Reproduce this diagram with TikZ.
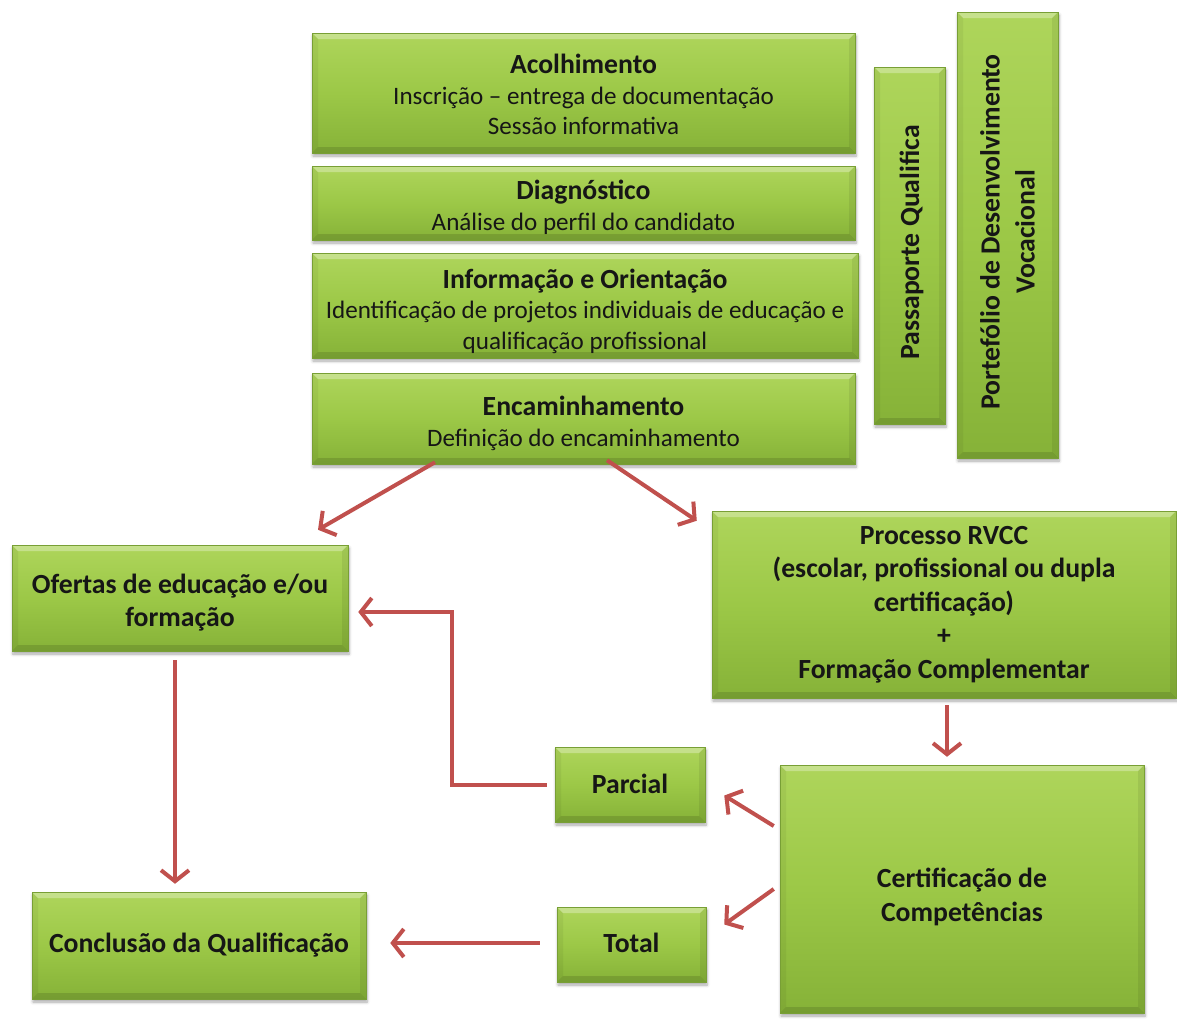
\documentclass[tikz,border=0pt]{standalone}
\usepackage{fontspec}
\setmainfont{Carlito}
\usetikzlibrary{arrows.meta,shadows.blur,calc}
\definecolor{gtop}{HTML}{AED55B}
\definecolor{gmid}{HTML}{9CC847}
\definecolor{gbot}{HTML}{86B238}
\definecolor{gedge}{HTML}{789F35}
\definecolor{arrred}{HTML}{C0504D}
\definecolor{txt}{HTML}{161616}
\newcommand{\ttl}[1]{{\fontsize{27.7}{33}\selectfont\bfseries #1}}
\tikzset{
  bevel/.style={path picture={
    \fill[white,opacity=0.30] (path picture bounding box.north west) -- (path picture bounding box.north east)
      -- ([xshift=-6pt,yshift=-6pt]path picture bounding box.north east) -- ([xshift=6pt,yshift=-6pt]path picture bounding box.north west) -- cycle;
    \fill[black,opacity=0.12] (path picture bounding box.south west) -- (path picture bounding box.south east)
      -- ([xshift=-6pt,yshift=6pt]path picture bounding box.south east) -- ([xshift=6pt,yshift=6pt]path picture bounding box.south west) -- cycle;
    \fill[black,opacity=0.05] (path picture bounding box.north west) -- ([xshift=6pt,yshift=-6pt]path picture bounding box.north west)
      -- ([xshift=6pt,yshift=6pt]path picture bounding box.south west) -- (path picture bounding box.south west) -- cycle;
    \fill[black,opacity=0.07] (path picture bounding box.north east) -- ([xshift=-6pt,yshift=-6pt]path picture bounding box.north east)
      -- ([xshift=-6pt,yshift=6pt]path picture bounding box.south east) -- (path picture bounding box.south east) -- cycle;
  }},
  box/.style={rectangle, draw=gedge, line width=0.5pt, top color=gtop, bottom color=gbot, middle color=gmid,
    blur shadow={shadow xshift=1pt, shadow yshift=-3pt, shadow blur radius=3pt, shadow blur steps=6, shadow opacity=35},
    bevel, inner sep=0pt},
  tx/.style={text=txt, align=center, inner sep=0pt, font=\fontsize{25.1}{30.5}\selectfont},
  btx/.style={tx, font=\fontsize{27.7}{33.5}\selectfont\bfseries},
  vtext/.style={rotate=90, text=txt, align=center, inner sep=0pt, font=\fontsize{27.7}{35}\selectfont\bfseries},
  arr/.style={draw=arrred, line width=4pt, -{Straight Barb[length=11pt,width=28pt,line width=4pt]}}
}
\begin{document}
\begin{tikzpicture}[x=1pt,y=-1pt]
\useasboundingbox (0,0) rectangle (1177,1021);
% boxes
\node[box, minimum width=543pt, minimum height=120pt] (acol) at (583.5,93) {};
\node[box, minimum width=543pt, minimum height=74pt] (diag) at (583.5,203) {};
\node[box, minimum width=546pt, minimum height=105pt] (info) at (585,305.5) {};
\node[box, minimum width=543pt, minimum height=91pt] (enc) at (583.5,418.5) {};
\node[box, minimum width=71pt, minimum height=357pt] (pass) at (909.5,245.5) {};
\node[box, minimum width=101pt, minimum height=446pt] (port) at (1007.5,235) {};
\node[box, minimum width=336pt, minimum height=106pt] (ofer) at (180,598) {};
\node[box, minimum width=464pt, minimum height=187pt] (rvcc) at (944,604.5) {};
\node[box, minimum width=150pt, minimum height=75pt] (parc) at (630,784.5) {};
\node[box, minimum width=364pt, minimum height=248pt] (cert) at (962,889) {};
\node[box, minimum width=149pt, minimum height=75pt] (tot) at (631.5,944.5) {};
\node[box, minimum width=334pt, minimum height=107pt] (conc) at (199,945.5) {};
% texts
\node[tx] (acolt) at ([yshift=-1.5pt]acol.center)
  {\ttl{Acolhimento}\\Inscrição – entrega de documentação\\Sessão informativa};
\node[tx] (diagt) at ([yshift=-4.5pt]diag.center)
  {\ttl{Diagnóstico}\\Análise do perfil do candidato};
\node[tx] (infot) at ([yshift=-5.5pt]info.center)
  {\ttl{Informação e Orientação}\\Identificação de projetos individuais de educação e\\qualificação profissional};
\node[tx] (enct) at ([yshift=-5pt]enc.center)
  {\ttl{Encaminhamento}\\Definição do encaminhamento};
\node[vtext] (passt) at ([xshift=2pt,yshift=3pt]pass.center) {Passaporte Qualifica};
\node[vtext] (portt) at ([yshift=3pt]port.center) {Portefólio de Desenvolvimento\\Vocacional};
\node[btx] (ofert) at ([yshift=-4.5pt]ofer.center) {Ofertas de educação e/ou\\formação};
\node[btx] (rvcct) at (rvcc.center)
  {Processo RVCC\\(escolar, profissional ou dupla\\certificação)\\+\\Formação Complementar};
\node[btx] (parct) at ([yshift=1pt]parc.center) {Parcial};
\node[btx] (certt) at ([yshift=-8pt]cert.center) {Certificação de\\Competências};
\node[btx] (tott) at ([yshift=2pt]tot.center) {Total};
\node[btx] (conct) at (conc.center) {Conclusão da Qualificação};
% connectors
\draw[arr] ([xshift=-148.5pt,yshift=2pt]enc.south) -- ([xshift=138pt,yshift=15pt]ofer.north);
\draw[arr] ([xshift=23.5pt,yshift=4pt]enc.south) -- ([xshift=-15pt,yshift=-10pt]rvcc.north west);
\draw[arr] ([xshift=-8pt]parc.west) -- ++(-95pt,0pt) |- ([xshift=10pt,yshift=-14pt]ofer.east);
\draw[arr] ([xshift=-5pt,yshift=-9pt]ofer.south) -- ([xshift=-24pt,yshift=8pt]conc.north);
\draw[arr] ([xshift=-17pt,yshift=1.5pt]tot.west) -- ([xshift=24pt,yshift=2.5pt]conc.east);
\draw[arr] ([xshift=3pt,yshift=-7pt]rvcc.south) -- ([xshift=-15pt,yshift=8pt]cert.north);
\draw[arr] ([xshift=-6pt,yshift=63pt]cert.west) -- ([xshift=19pt,yshift=-11pt]parc.east);
\draw[arr] ([xshift=-6pt,yshift=0pt]cert.west) -- ([xshift=18pt,yshift=20pt]tot.east);
\end{tikzpicture}
\end{document}
